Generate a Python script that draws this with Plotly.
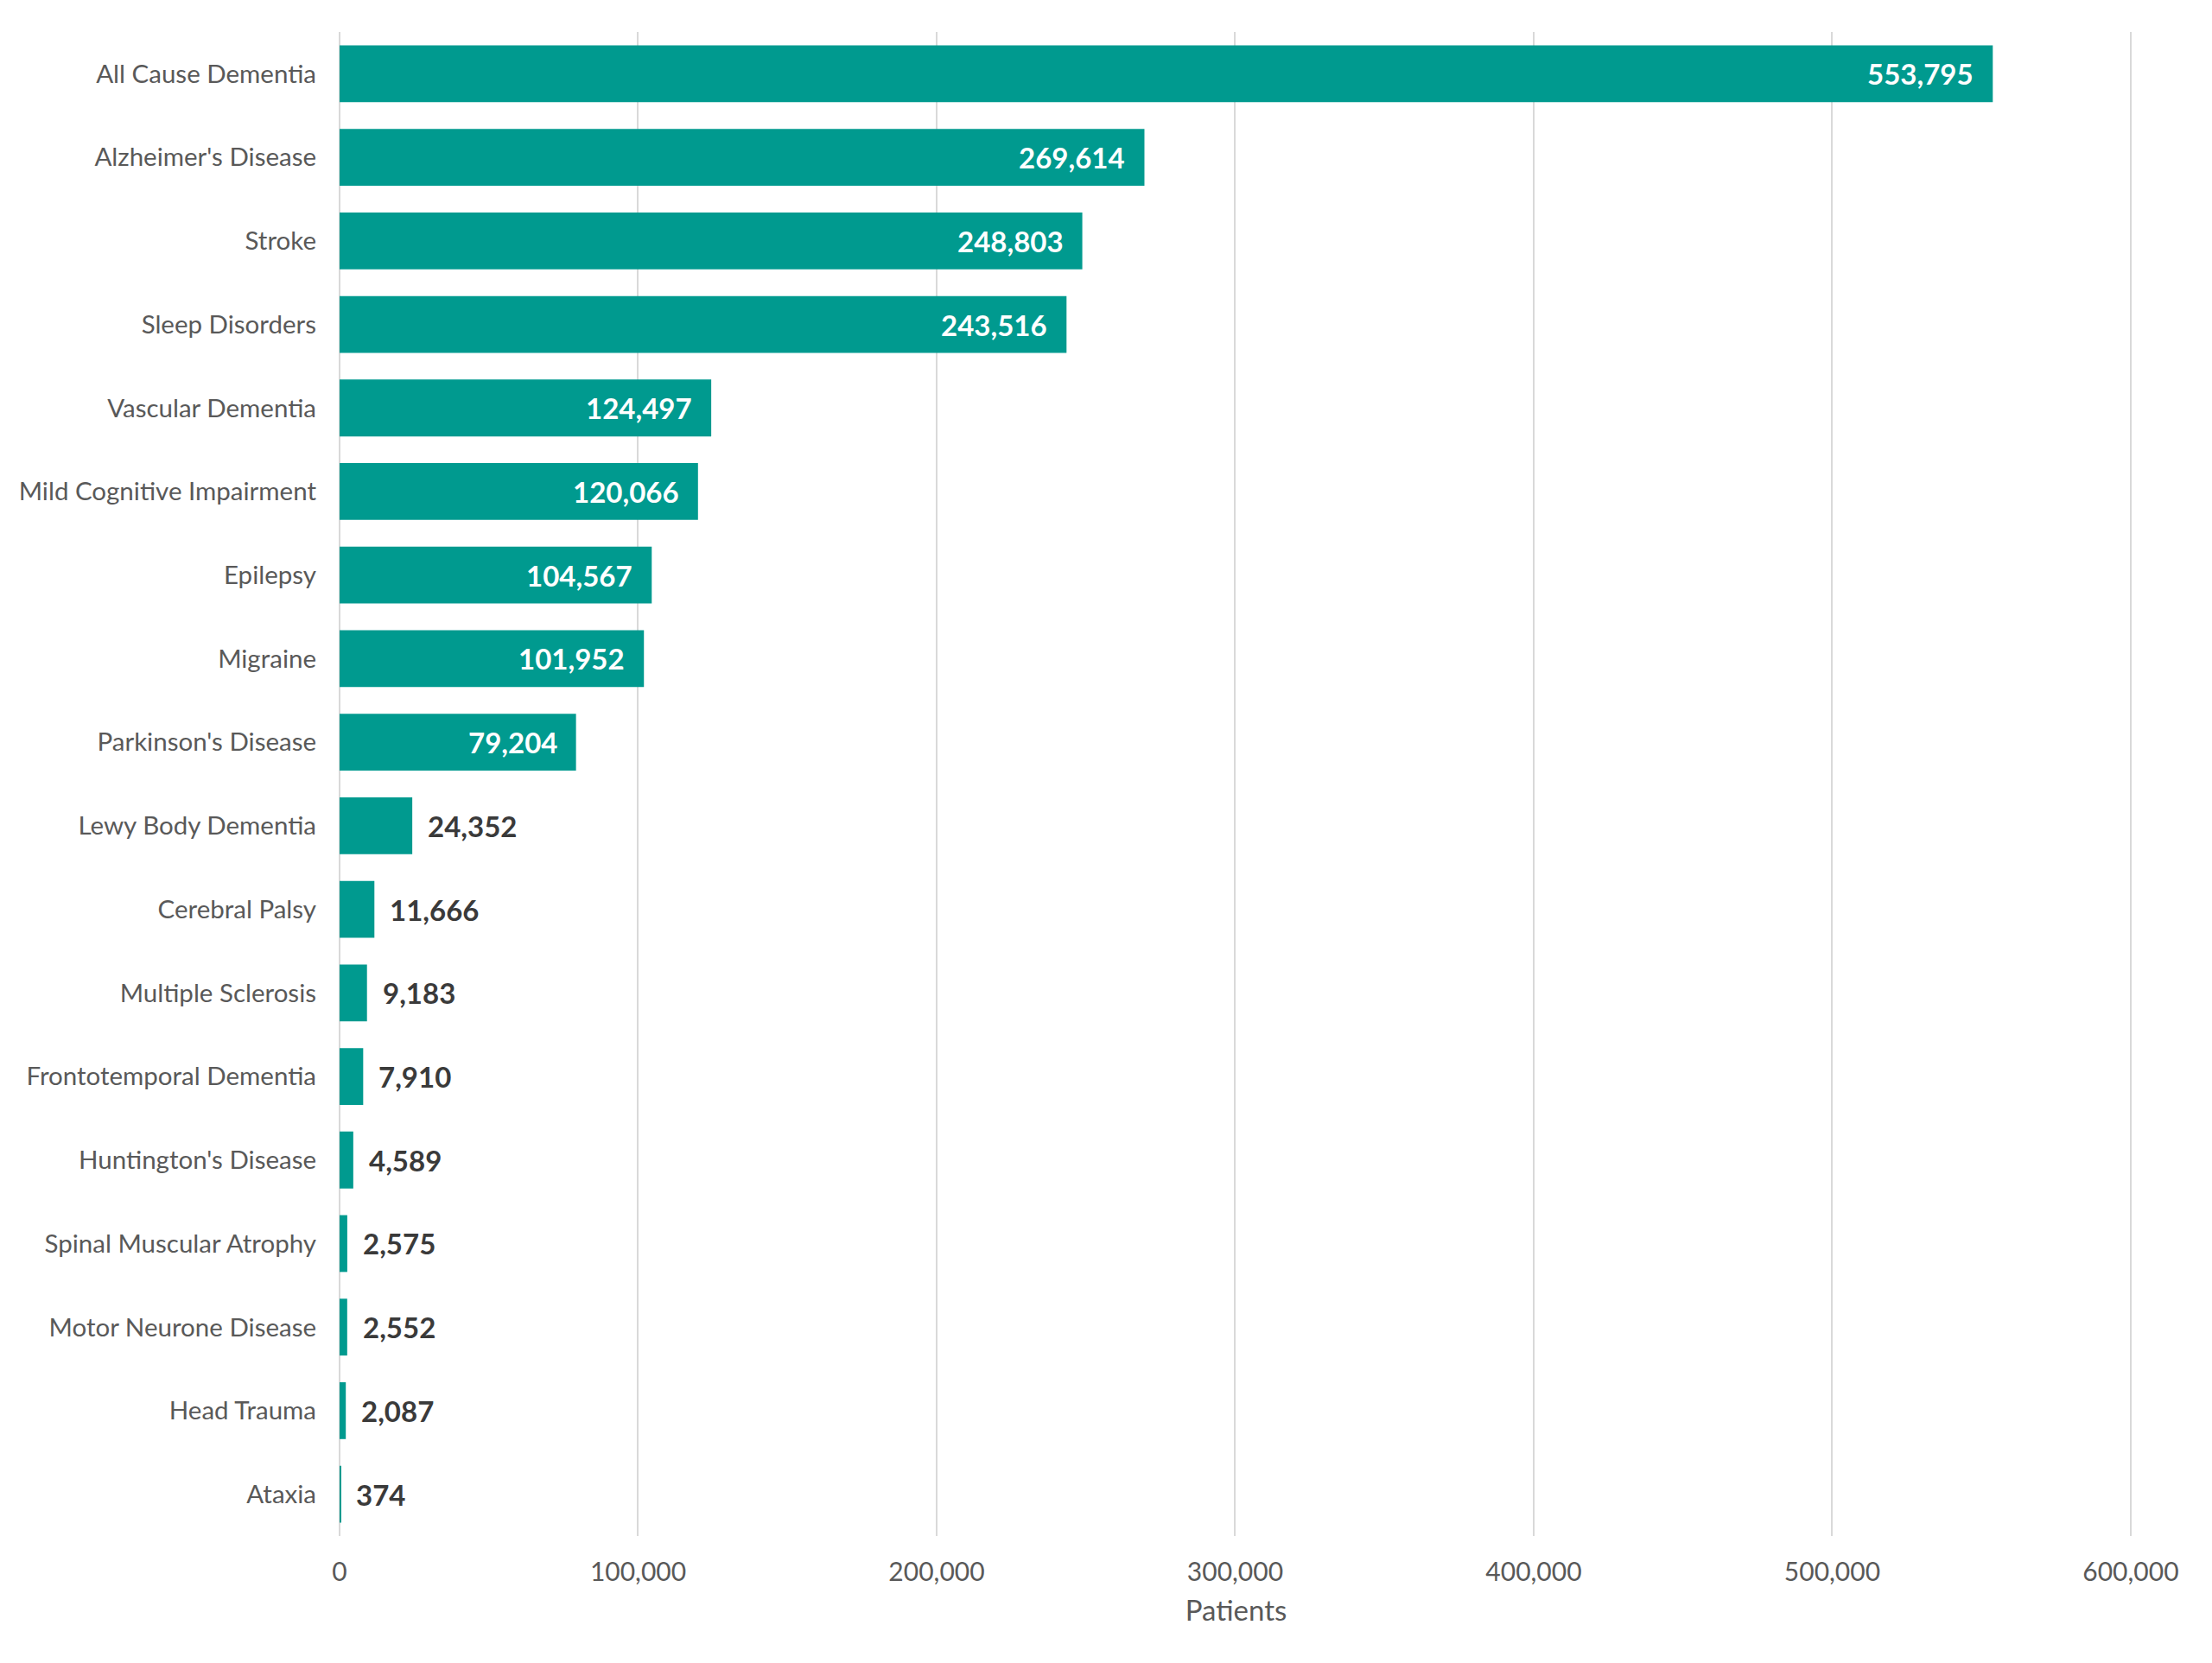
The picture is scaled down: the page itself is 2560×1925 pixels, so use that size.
import plotly.graph_objects as go

# condition names and patient counts, top to bottom
conditions = [
    "All Cause Dementia", "Alzheimer's Disease", "Stroke", "Sleep Disorders",
    "Vascular Dementia", "Mild Cognitive Impairment", "Epilepsy", "Migraine",
    "Parkinson's Disease", "Lewy Body Dementia", "Cerebral Palsy",
    "Multiple Sclerosis", "Frontotemporal Dementia", "Huntington's Disease",
    "Spinal Muscular Atrophy", "Motor Neurone Disease", "Head Trauma", "Ataxia",
]
patients = [
    553795, 269614, 248803, 243516, 124497, 120066, 104567, 101952, 79204,
    24352, 11666, 9183, 7910, 4589, 2575, 2552, 2087, 374,
]
x_ticks = [0, 100000, 200000, 300000, 400000, 500000, 600000]

# labels go inside the bar when it is long enough
inside_min = 50000

teal = "#009a8f"

fig = go.Figure()
fig.add_trace(go.Bar(
    x=patients,
    y=conditions,
    orientation="h",
    marker=dict(color=teal, line=dict(width=0)),
    hoverinfo="x+y",
))

annotations = []
for name, val in zip(conditions, patients):
    inside = val >= inside_min
    annotations.append(dict(
        x=val, y=name, xref="x", yref="y",
        text=f"{val:,}",
        showarrow=False,
        xanchor="right" if inside else "left",
        xshift=-20 if inside else 16,
        font=dict(family="Lato", size=33, color="#ffffff" if inside else "#3a3a3a",
                  weight="bold"),
    ))

# page body adds 8px, margins are set to land the plot where the original is
fig.update_layout(
    width=2560,
    height=1925,
    margin=dict(l=385, r=100, t=29, b=155),
    plot_bgcolor="white",
    paper_bgcolor="white",
    font=dict(family="Lato", size=29.5, color="#595959"),
    bargap=0.32,
    showlegend=False,
    annotations=annotations,
)
fig.update_xaxes(
    range=[0, 600600],
    tickvals=x_ticks,
    tickformat=",",
    showgrid=True,
    gridcolor="#d9d9d9",
    gridwidth=2,
    zeroline=True,
    zerolinecolor="#d9d9d9",
    zerolinewidth=2,
    showline=False,
    ticks="",
    ticklabelstandoff=21,
    tickfont=dict(size=30, color="#595959"),
    title=dict(text="Patients", standoff=17, font=dict(size=33, color="#595959")),
)
fig.update_yaxes(
    autorange="reversed",
    showgrid=False,
    showline=False,
    ticks="",
    ticklabelstandoff=26,
    tickfont=dict(size=29.5, color="#595959"),
)

fig.write_html("out.html")
